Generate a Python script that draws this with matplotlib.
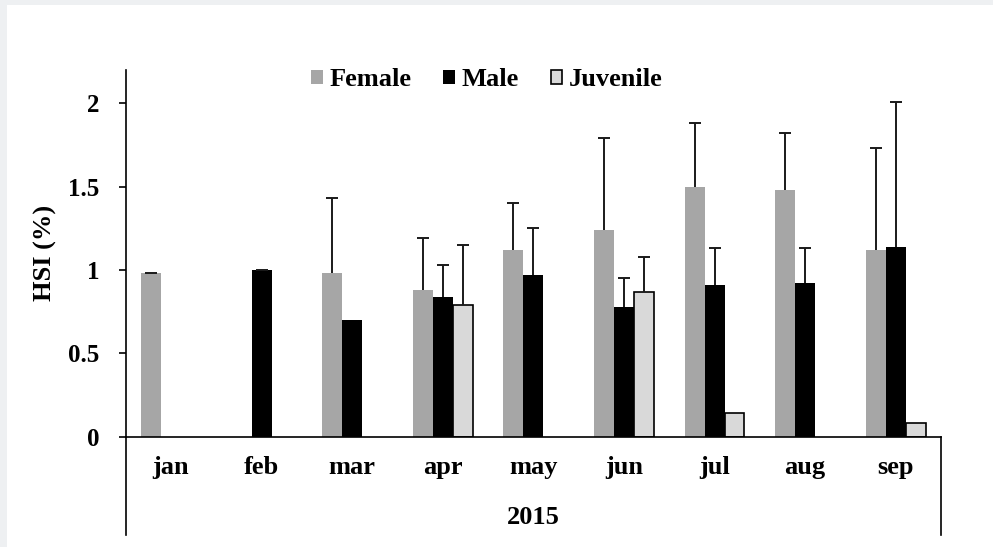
import numpy as np
import matplotlib.pyplot as plt

months = ["jan", "feb", "mar", "apr", "may", "jun", "jul", "aug", "sep"]
year_label = "2015"

# mean HSI (%) per month, nan where no fish of that group were sampled
female = [0.98, np.nan, 0.98, 0.88, 1.12, 1.24, 1.50, 1.48, 1.12]
male = [np.nan, 1.00, 0.70, 0.84, 0.97, 0.78, 0.91, 0.92, 1.14]
juvenile = [np.nan, np.nan, np.nan, 0.79, np.nan, 0.87, 0.14, np.nan, 0.08]

# standard deviations (drawn upward only)
female_sd = [0.0, np.nan, 0.45, 0.31, 0.28, 0.55, 0.38, 0.34, 0.61]
male_sd = [np.nan, 0.0, np.nan, 0.19, 0.28, 0.17, 0.22, 0.21, 0.87]
juvenile_sd = [np.nan, np.nan, np.nan, 0.36, np.nan, 0.21, np.nan, np.nan, np.nan]

plt.rcParams["font.family"] = ["Liberation Serif", "DejaVu Serif"]
plt.rcParams["font.weight"] = "bold"
fs = 19

fig = plt.figure(figsize=(9.93, 5.47), dpi=100)
fig.patch.set_facecolor("#eef0f2")
# white chart area with a thin grey margin on the top and left
fig.add_artist(plt.Rectangle((7 / 993, 0), 1, 1 - 5 / 547, transform=fig.transFigure,
                             facecolor="white", edgecolor="none", zorder=0))

ax = fig.add_axes([0.1266, 0.2016, 0.9477 - 0.1266, 0.872 - 0.2016])
ax.set_facecolor("none")

x = np.arange(len(months))
w = 0.22
err_kw = dict(ecolor="#1a1a1a", elinewidth=1.4, capsize=4.5, capthick=1.4)

def up_only(sd):
    sd = np.array(sd, dtype=float)
    return [np.zeros_like(sd), sd]

bars = [
    ax.bar(x - w, female, w, color="#a6a6a6", label="Female",
           yerr=up_only(female_sd), error_kw=err_kw),
    ax.bar(x, male, w, color="black", label="Male",
           yerr=up_only(male_sd), error_kw=err_kw),
    ax.bar(x + w, juvenile, w, color="#d9d9d9", edgecolor="black", linewidth=1.2,
           label="Juvenile", yerr=up_only(juvenile_sd), error_kw=err_kw),
]
# keep only the top cap of each error bar
for b in bars:
    caps = b.errorbar.lines[1]
    caps[0].set_visible(False)

ax.set_xlim(-0.5, len(months) - 0.5)
ax.set_ylim(0, 2.2)
ax.set_yticks([0, 0.5, 1, 1.5, 2])
ax.set_yticklabels(["0", "0.5", "1", "1.5", "2"])
ax.tick_params(axis="y", direction="out", length=5, width=1.2, labelsize=18, pad=14)
ax.tick_params(axis="x", length=0, labelsize=fs, pad=14)
ax.set_xticks(x)
ax.set_xticklabels(months)

for side in ["top", "right"]:
    ax.spines[side].set_visible(False)
ax.spines["left"].set_linewidth(1.2)
ax.spines["bottom"].set_linewidth(1.2)

# grouping brackets under the category axis
depth = -(535 - 437) / (437 - 70)
ax.plot([0, 0], [0, depth], transform=ax.transAxes, color="black", lw=1.2, clip_on=False)
ax.plot([1, 1], [0, depth], transform=ax.transAxes, color="black", lw=1.2, clip_on=False)
ax.text(0.5, -0.22, year_label, transform=ax.transAxes, ha="center", va="center",
        fontsize=fs, fontweight="bold")

ax.set_ylabel("HSI (%)", fontsize=fs, fontweight="bold", labelpad=8)

ax.legend(loc="center", bbox_to_anchor=(0.443, 0.973), ncol=3, frameon=False,
          fontsize=fs, handlelength=0.45, handleheight=0.45, handletextpad=0.25,
          columnspacing=1.2)

fig.savefig("out.png", dpi=100)
